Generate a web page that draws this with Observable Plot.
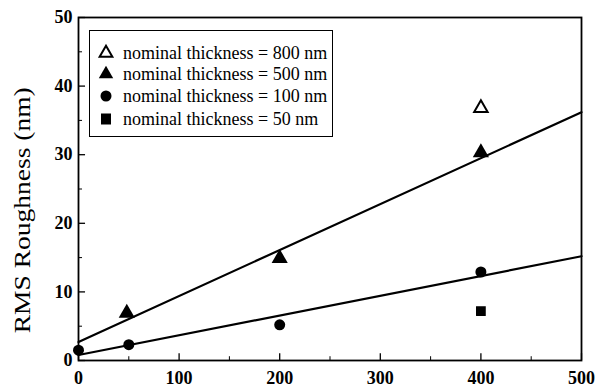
<!DOCTYPE html>
<html><head><meta charset="utf-8">
<script src="https://cdn.jsdelivr.net/npm/d3@7"></script>
<script src="https://cdn.jsdelivr.net/npm/@observablehq/plot@0.6"></script>
<style>
body{margin:0;background:#fff}
#wrap{position:relative;width:598px;height:389px}
#legend{position:absolute;left:89px;top:30px;width:244px;height:107px;border:1.5px solid #000;box-sizing:border-box;background:#fff}
.row{position:absolute;left:0;height:22px;line-height:22px;white-space:nowrap;color:#000}
.sym{position:absolute;left:7px;top:0;width:18px;height:22px}
.txt{position:absolute;left:33px;top:0}
</style></head>
<body><div id="wrap"></div>
<script>
const seriesNames = ["nominal thickness = 800 nm","nominal thickness = 500 nm","nominal thickness = 100 nm","nominal thickness = 50 nm"];
const x800 = [400], y800 = [36.8];
const x500 = [48, 200, 400], y500 = [6.9, 14.9, 30.3];
const x100 = [0, 50, 200, 400], y100 = [1.5, 2.3, 5.2, 12.9];
const x50 = [400], y50 = [7.2];
const fitX = [0, 500];
const fitHigh = [2.7, 36.2];
const fitLow = [0.8, 15.2];
const xTicks = [0, 100, 200, 300, 400, 500];
const xMinor = [50, 150, 250, 350, 450];
const yTicks = [0, 10, 20, 30, 40, 50];
const yMinor = [5, 15, 25, 35, 45];
const yLabel = "RMS Roughness (nm)";

const serif = "'Liberation Serif', 'Times New Roman', serif";
const chart = Plot.plot({
  width: 598, height: 389,
  marginLeft: 78, marginRight: 17, marginTop: 17, marginBottom: 29,
  style: {background: "#fff", color: "#000"},
  x: {domain: [0, 500]},
  y: {domain: [0, 50]},
  marks: [
    Plot.frame({stroke: "#000", strokeWidth: 1.8}),
    Plot.ruleX(xTicks, {x: d => d, y1: 0, y2: 1.0, stroke: "#000", strokeWidth: 1.3}),
    Plot.ruleX(xMinor, {x: d => d, y1: 0, y2: 0.55, stroke: "#000", strokeWidth: 1}),
    Plot.ruleY(yTicks, {y: d => d, x1: 0, x2: 7, stroke: "#000", strokeWidth: 1.3}),
    Plot.ruleY(yMinor, {y: d => d, x1: 0, x2: 4, stroke: "#000", strokeWidth: 1}),
    Plot.axisX({ticks: xTicks, tickSize: 0, tickPadding: 11, fontSize: 18, fontWeight: "bold", label: null}),
    Plot.axisY({ticks: yTicks, tickSize: 0, tickPadding: 6, fontSize: 18, fontWeight: "bold", label: null}),
    Plot.line(fitHigh, {x: fitX, y: fitHigh, stroke: "#000", strokeWidth: 2.2}),
    Plot.line(fitLow, {x: fitX, y: fitLow, stroke: "#000", strokeWidth: 2.2}),
    Plot.dot(y800, {x: x800, y: y800, symbol: "triangle", r: 5, stroke: "#000", strokeWidth: 2, fill: "#fff"}),
    Plot.dot(y500, {x: x500, y: y500, symbol: "triangle", r: 6, fill: "#000", stroke: "none"}),
    Plot.dot(y100, {x: x100, y: y100, symbol: "circle", r: 5.5, fill: "#000", stroke: "none"}),
    Plot.dot(y50, {x: x50, y: y50, symbol: "square", r: 5.5, fill: "#000", stroke: "none"}),
    Plot.text([yLabel], {text: d => d, frameAnchor: "left", y: 21.9, dx: -56, rotate: -90, fontSize: 23, fill: "#000", textAnchor: "middle"})
  ]
});
chart.querySelectorAll("text").forEach(t => {
  t.style.setProperty("font-family", serif, "important");
  if (t.textContent === yLabel) { t.setAttribute("textLength", "246"); t.setAttribute("lengthAdjust", "spacingAndGlyphs"); }
});
const wrap = document.getElementById("wrap");
wrap.appendChild(chart);

// legend
const legend = document.createElement("div");
legend.id = "legend";
const symbols = ["openTri", "tri", "circle", "square"];
const rowTops = [11, 32, 54, 77];
seriesNames.forEach((name, i) => {
  const row = document.createElement("div");
  row.className = "row";
  row.style.top = rowTops[i] + "px";
  const s = d3.create("svg").attr("class", "sym").attr("width", 18).attr("height", 22);
  const g = s.append("g").attr("transform", "translate(9,11)");
  const k = symbols[i];
  if (k === "openTri") g.append("path").attr("d", d3.symbol(d3.symbolTriangle, 70)()).attr("fill", "#fff").attr("stroke", "#000").attr("stroke-width", 2);
  if (k === "tri") g.append("path").attr("d", d3.symbol(d3.symbolTriangle, 90)()).attr("fill", "#000");
  if (k === "circle") g.append("circle").attr("r", 5.5).attr("fill", "#000");
  if (k === "square") g.append("rect").attr("x", -5).attr("y", -5.5).attr("width", 10).attr("height", 11).attr("fill", "#000");
  row.appendChild(s.node());
  const t = document.createElement("span");
  t.className = "txt";
  t.textContent = name;
  t.style.setProperty("font-family", serif, "important");
  t.style.setProperty("font-size", "18px", "important");
  row.appendChild(t);
  legend.appendChild(row);
});
wrap.appendChild(legend);
</script>
</body></html>
